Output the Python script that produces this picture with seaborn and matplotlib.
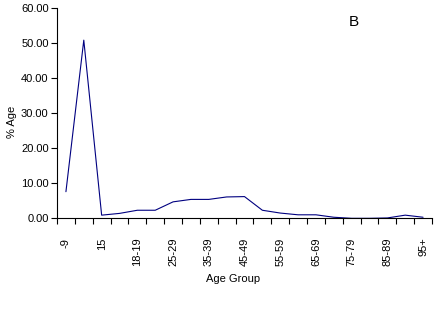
import matplotlib
matplotlib.use("Agg")
import matplotlib.pyplot as plt
import seaborn as sns
import pandas as pd
import numpy as np
from matplotlib.ticker import FixedLocator, FormatStrFormatter

sns.set_theme(style="white")
plt.rcParams['font.family'] = ['Liberation Sans', 'DejaVu Sans']

age_groups = ["-9", "10-14", "15", "16-17", "18-19", "20-24", "25-29", "30-34",
              "35-39", "40-44", "45-49", "50-54", "55-59", "60-64", "65-69",
              "70-74", "75-79", "80-84", "85-89", "90-94", "95+"]
pct_age = [7.6, 50.9, 0.9, 1.4, 2.3, 2.3, 4.7, 5.4, 5.4, 6.1, 6.2, 2.3, 1.5,
           1.0, 1.0, 0.3, 0.0, 0.0, 0.1, 0.9, 0.3]
yticks = [0, 10, 20, 30, 40, 50, 60]

df = pd.DataFrame({"Age Group": age_groups, "% Age": pct_age})

W, H = 439, 334
fig = plt.figure(figsize=(W / 100, H / 100), dpi=100)
x0, x1, ytop, ybot = 57, 432, 8.3, 218.3
ax = fig.add_axes([x0 / W, 1 - ybot / H, (x1 - x0) / W, (ybot - ytop) / H])

sns.lineplot(data=df, x="Age Group", y="% Age", sort=False, ax=ax,
             color="#000080", linewidth=0.8)

n = len(age_groups)
ax.set_xlim(-0.5, n - 0.5)
ax.set_ylim(0, 60)
ax.set_yticks(yticks)
ax.yaxis.set_major_formatter(FormatStrFormatter("%.2f"))

shown = list(range(0, n, 2))
ax.set_xticks(shown)
ax.set_xticklabels([age_groups[i] for i in shown], rotation=90)
ax.xaxis.set_minor_locator(FixedLocator(np.arange(-0.5, n, 1.0)))
ax.tick_params(axis="x", which="major", length=0, pad=14, labelsize=8, colors="black")
ax.tick_params(axis="x", which="minor", length=4, width=0.8, direction="out",
               bottom=True, color="black")
ax.tick_params(axis="y", which="major", length=4, width=0.8, direction="out",
               left=True, labelsize=8, pad=2, colors="black")

for s in ["top", "right"]:
    ax.spines[s].set_visible(False)
for s in ["left", "bottom"]:
    ax.spines[s].set_color("black")
    ax.spines[s].set_linewidth(0.8)

ax.set_xlabel("Age Group", fontsize=8, color="black")
ax.xaxis.set_label_coords((233 - x0) / (x1 - x0), (ybot - 274) / (ybot - ytop))
ax.set_ylabel("% Age", fontsize=8, color="black")
ax.yaxis.set_label_coords((17 - x0) / (x1 - x0), (ybot - 122) / (ybot - ytop))
ax.grid(False)

fig.text(353.5 / W, 1 - 21.5 / H, "B", fontsize=11, ha="center", va="center", color="black")

fig.savefig("out.png", dpi=100, facecolor="white")
